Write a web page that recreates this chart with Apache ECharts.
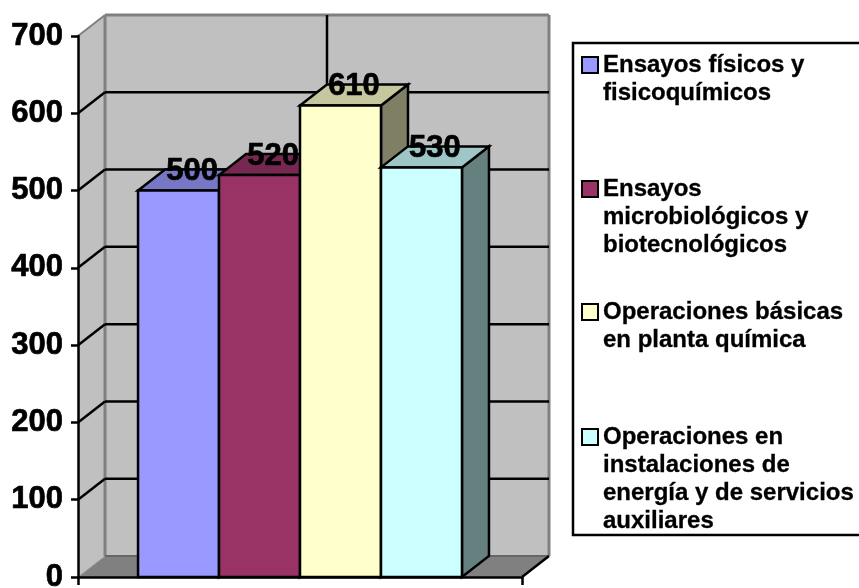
<!DOCTYPE html>
<html>
<head>
<meta charset="utf-8">
<script src="https://cdn.jsdelivr.net/npm/echarts@6/dist/echarts.min.js"></script>
<style>
html, body { margin: 0; padding: 0; background: #fff; }
#main { width: 859px; height: 588px; }
</style>
</head>
<body>
<div id="main"></div>
<script>
var categories = ['Ensayos físicos y fisicoquímicos', 'Ensayos microbiológicos y biotecnológicos', 'Operaciones básicas en planta química', 'Operaciones en instalaciones de energía y de servicios auxiliares'];
var legendLines = [
    ['Ensayos físicos y', 'fisicoquímicos'],
    ['Ensayos', 'microbiológicos y', 'biotecnológicos'],
    ['Operaciones básicas', 'en planta química'],
    ['Operaciones en', 'instalaciones de', 'energía y de servicios', 'auxiliares']
];
var values = [500, 520, 610, 530];
var yTicks = [100, 200, 300, 400, 500, 600, 700];
var frontColors = ['#9999FF', '#993366', '#FFFFCC', '#CCFFFF'];
var topColors = ['#7777C6', '#772850', '#C6C69F', '#9FC6C6'];
var sideColors = ['#4C4C7F', '#4C1933', '#7F7F66', '#667F7F'];
// first line of each legend entry is level with its swatch, blank lines above keep it there
var legendFirstLine = [65, 189, 312, 437];
var LEGEND_LINE = 28;

var FONT = '"Liberation Sans", Arial, sans-serif';
var DX = 27, DY = -21;
var BAR_FRAC = 0.1824;
var LINE_W = 2.5;

function poly(points, fill, stroke, width) {
    return {
        type: 'polygon',
        shape: { points: points },
        style: { fill: fill, stroke: stroke, lineWidth: width, lineJoin: 'miter' }
    };
}

function line(a, b, color, width) {
    return {
        type: 'line',
        shape: { x1: a[0], y1: a[1], x2: b[0], y2: b[1] },
        style: { stroke: color, lineWidth: width }
    };
}

function renderWalls(params, api) {
    var band = api.size([1, 0])[0];
    var center = api.coord([0, 0])[0];
    var x0 = center - band / 2, x1 = center + band / 2;
    var y0 = api.coord([0, 0])[1], yTop = api.coord([0, 700])[1];
    var children = [
        poly([[x0 + DX, yTop + DY], [x1 + DX, yTop + DY], [x1 + DX, y0 + DY], [x0 + DX, y0 + DY]], '#C0C0C0'),
        poly([[x0, yTop], [x0 + DX, yTop + DY], [x0 + DX, y0 + DY], [x0, y0]], '#C0C0C0'),
        poly([[x0, y0], [x0 + DX, y0 + DY], [x1 + DX, y0 + DY], [x1, y0]], '#808080')
    ];
    children.push(line([x0 + DX, yTop + DY], [x0 + DX, y0 + DY], '#808080', 3));
    children.push(line([x0, yTop], [x0 + DX, yTop + DY], '#808080', 2));
    children.push(line([x0 + DX, yTop + DY], [x1 + DX, yTop + DY], '#808080', 3));
    children.push(line([x1 + DX, yTop + DY], [x1 + DX, y0 + DY], '#808080', 3));
    children.push(line([x0, y0], [x0 + DX, y0 + DY], '#A0A0A0', 1));
    children.push(line([x0 + DX, y0 + DY], [x1 + DX, y0 + DY], '#666666', 2));
    children.push(line([x1, y0], [x1 + DX, y0 + DY], '#000000', LINE_W));
    children.push(line([center + DX, yTop + DY], [center + DX, y0 + DY], '#000000', LINE_W));
    yTicks.forEach(function (t) {
        if (t === 700) return;
        var y = api.coord([0, t])[1];
        children.push(line([x0, y], [x0 + DX, y + DY], '#000000', LINE_W));
        children.push(line([x0 + DX, y + DY], [x1 + DX, y + DY], '#000000', LINE_W));
    });
    return { type: 'group', children: children };
}

function renderBar(idx) {
    return function (params, api) {
        var band = api.size([1, 0])[0];
        var w = band * BAR_FRAC;
        var center = api.coord([0, 0])[0];
        var left = center - 2 * w + idx * w, right = left + w;
        var yBase = api.coord([0, 0])[1];
        var yVal = api.coord([0, api.value(1)])[1];
        return {
            type: 'group',
            children: [
                poly([[right, yVal], [right + DX, yVal + DY], [right + DX, yBase + DY], [right, yBase]], sideColors[idx], '#000', LINE_W),
                poly([[left, yVal], [left + DX, yVal + DY], [right + DX, yVal + DY], [right, yVal]], topColors[idx], '#000', LINE_W),
                poly([[left, yVal], [right, yVal], [right, yBase], [left, yBase]], frontColors[idx], '#000', LINE_W),
                {
                    type: 'text',
                    x: (left + right) / 2 + DX / 2,
                    y: yVal + DY + 2,
                    z2: 10,
                    style: {
                        text: String(api.value(1)),
                        fill: '#000',
                        stroke: '#000',
                        lineWidth: 0.7,
                        font: 'bold 31px ' + FONT,
                        align: 'center',
                        verticalAlign: 'middle'
                    }
                }
            ]
        };
    };
}

var series = [{
    type: 'custom',
    name: 'walls',
    silent: true,
    z: 1,
    clip: false,
    renderItem: renderWalls,
    data: [[0, 0]]
}];
categories.forEach(function (name, i) {
    series.push({
        type: 'custom',
        name: name,
        z: 2,
        clip: false,
        itemStyle: { color: frontColors[i] },
        renderItem: renderBar(i),
        encode: { x: 0, y: 1 },
        data: [[0, values[i]]]
    });
});

var legends = categories.map(function (name, i) {
    var n = legendLines[i].length;
    var blanks = new Array(n).join('\n');
    return {
        data: [{ name: name, icon: 'rect', itemStyle: { color: frontColors[i], borderColor: '#000', borderWidth: 2 } }],
        left: 581,
        top: legendFirstLine[i] - (n - 1) * LEGEND_LINE - LEGEND_LINE / 2,
        padding: 0,
        itemWidth: 16,
        itemHeight: 16,
        selectedMode: false,
        formatter: function () { return blanks + legendLines[i].join('\n'); },
        textStyle: {
            fontFamily: FONT,
            fontWeight: 'bold',
            fontSize: 24,
            lineHeight: LEGEND_LINE,
            color: '#000',
            textBorderColor: '#000',
            textBorderWidth: 0.3
        }
    };
});

var chart = echarts.init(document.getElementById('main'));
chart.setOption({
    animation: false,
    backgroundColor: '#fff',
    tooltip: { show: false },
    graphic: [{
        type: 'rect',
        shape: { x: 573, y: 43, width: 300, height: 492 },
        style: { fill: '#fff', stroke: '#000', lineWidth: 2.5 },
        z: -1
    }],
    legend: legends,
    grid: { left: 78, top: 36, width: 444, height: 541, outerBoundsMode: 'none' },
    xAxis: {
        type: 'category',
        data: [''],
        z: 5,
        axisLine: { lineStyle: { color: '#000', width: LINE_W } },
        axisTick: { show: true, length: 8, lineStyle: { color: '#000', width: LINE_W } },
        axisLabel: { show: false },
        splitLine: { show: false }
    },
    yAxis: {
        type: 'value',
        min: 0,
        max: 700,
        interval: 100,
        z: 5,
        axisLine: { show: true, lineStyle: { color: '#000', width: LINE_W } },
        axisTick: { show: true, length: 7, lineStyle: { color: '#000', width: LINE_W } },
        axisLabel: {
            margin: 15,
            padding: [4, 0, 0, 0],
            color: '#000',
            fontFamily: FONT,
            fontWeight: 'bold',
            fontSize: 31,
            textBorderColor: '#000',
            textBorderWidth: 0.7
        },
        splitLine: { show: false }
    },
    series: series
});
</script>
</body>
</html>
